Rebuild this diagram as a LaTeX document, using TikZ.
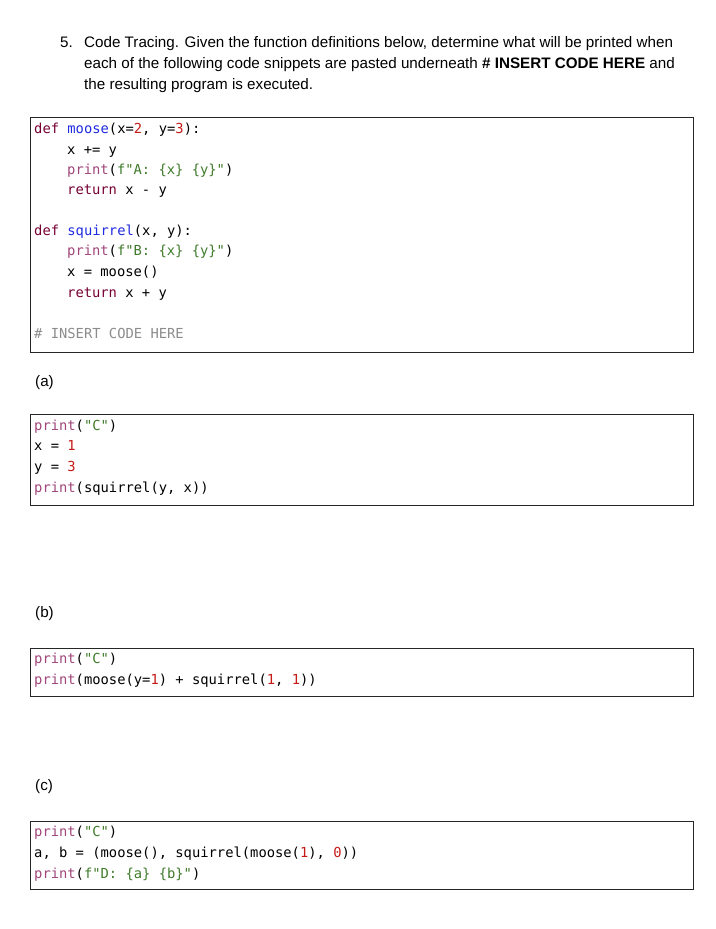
\documentclass[tikz,border=0pt]{standalone}
\usepackage{fontspec}
\setmainfont{Liberation Sans}
\setmonofont{DejaVu Sans Mono}
\definecolor{kw}{HTML}{770033}
\definecolor{fn}{HTML}{1F2BE0}
\definecolor{num}{HTML}{C41A16}
\definecolor{bi}{HTML}{A0457A}
\definecolor{st}{HTML}{3F7A2A}
\definecolor{cm}{HTML}{8C8C8C}
\newcommand{\K}[1]{\textcolor{kw}{#1}}
\newcommand{\F}[1]{\textcolor{fn}{#1}}
\newcommand{\N}[1]{\textcolor{num}{#1}}
\newcommand{\B}[1]{\textcolor{bi}{#1}}
\newcommand{\Sg}[1]{\textcolor{st}{#1}}
\begin{document}
\begin{tikzpicture}[x=1pt,y=-1pt,
  code/.style={anchor=mid west,inner sep=0pt,font=\ttfamily\fontsize{13.8}{16}\selectfont},
  txt/.style={anchor=mid west,inner sep=0pt,font=\fontsize{15.2}{18}\selectfont},
  codebox/.style={draw=black!85,line width=1pt}]
\useasboundingbox (0,0) rectangle (715,929);
\node[txt] (n5) at (60,45) {5.};
\node[txt] (h1) at (84,45) {Code Tracing. Given the function definitions below, determine what will be printed when};
\node[txt] (h2) at (84,66) {each of the following code snippets are pasted underneath \textbf{\# INSERT CODE HERE} and};
\node[txt] (h3) at (84,87) {the resulting program is executed.};
\draw[codebox] (30,117) rectangle (693,352);
\node[code] (l1) at (34,131) {\K{def} \F{moose}(x=\N{2}, y=\N{3}):};
\node[code] (l2) at (67,152) {x += y};
\node[code] (l3) at (67,172) {\B{print}(\Sg{f"A: \{x\} \{y\}"})};
\node[code] (l4) at (67,192) {\K{return} x - y};
\node[code] (l5) at (34,233) {\K{def} \F{squirrel}(x, y):};
\node[code] (l6) at (67,253) {\B{print}(\Sg{f"B: \{x\} \{y\}"})};
\node[code] (l7) at (67,274) {x = moose()};
\node[code] (l8) at (67,295) {\K{return} x + y};
\node[code] (l9) at (34,336) {\textcolor{cm}{\# INSERT CODE HERE}};
\node[txt] (la) at (35,384) {(a)};
\draw[codebox] (30,414) rectangle (693,505);
\node[code] (a1) at (34,428) {\B{print}(\Sg{"C"})};
\node[code] (a2) at (34,448) {x = \N{1}};
\node[code] (a3) at (34,469) {y = \N{3}};
\node[code] (a4) at (34,490) {\B{print}(squirrel(y, x))};
\node[txt] (lb) at (35,615) {(b)};
\draw[codebox] (30,648) rectangle (693,696);
\node[code] (b1) at (34,661) {\B{print}(\Sg{"C"})};
\node[code] (b2) at (34,682) {\B{print}(moose(y=\N{1}) + squirrel(\N{1}, \N{1}))};
\node[txt] (lc) at (35,788) {(c)};
\draw[codebox] (30,821) rectangle (693,889);
\node[code] (c1) at (34,834) {\B{print}(\Sg{"C"})};
\node[code] (c2) at (34,855) {a, b = (moose(), squirrel(moose(\N{1}), \N{0}))};
\node[code] (c3) at (34,876) {\B{print}(\Sg{f"D: \{a\} \{b\}"})};
\end{tikzpicture}
\end{document}
